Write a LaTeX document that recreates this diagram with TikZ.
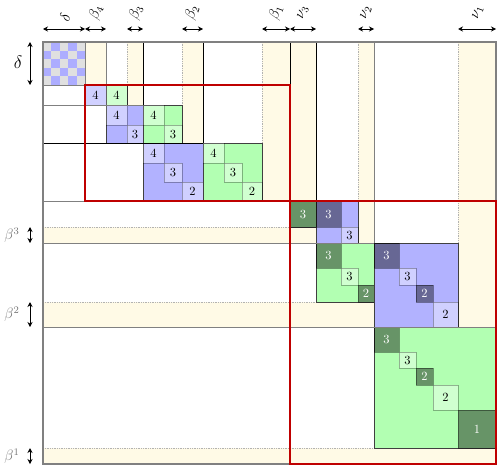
\documentclass[tikz,border=0pt]{standalone}
\usepackage{amsmath}
\usepackage{amssymb}
\usepackage{xcolor}
\usepackage{tikz}
\usetikzlibrary{
    arrows.meta,
    calc
}

\definecolor{cream}{RGB}{255,250,230}

% one square of a block: frame it and put its label in the middle
\newcommand{\cellbox}[7]{%
    \draw[#2] (#3,#4) rectangle (#5,#6);
    \node[#2, fill=none, draw=none, text opacity=1, inner sep=0pt] (#1) at ($(#3,#4)!0.5!(#5,#6)$) {#7};
}

\begin{document}
\begin{tikzpicture}[
        x=0.8pt, y=-0.8pt,
        strip/.style={
            fill=cream
        },
        dotrule/.style={
            densely dotted,
            black!30,
            line width=0.4pt
        },
        rule/.style={
            black,
            line width=0.5pt
        },
        softrule/.style={
            black!50,
            line width=0.6pt
        },
        blueblk/.style={
            fill=blue!30,
            draw=black!75,
            line width=0.5pt
        },
        greenblk/.style={
            fill=green!30,
            draw=black!75,
            line width=0.5pt
        },
        light/.style={
            fill=white,
            fill opacity=0.4,
            draw=black,
            draw opacity=0.3
        },
        dark/.style={
            fill=black,
            fill opacity=0.42,
            draw=black,
            draw opacity=0.4,
            text=white
        },
        frame/.style={
            draw=red!75!black,
            line width=1pt
        },
        dim/.style={
            {Stealth[length=4pt,width=4pt]}-{Stealth[length=4pt,width=4pt]},
            line width=0.6pt
        },
        toplabel/.style={
            rotate=70,
            inner sep=0pt,
            font=\large
        },
        sidelabel/.style={
            text=black!55,
            inner sep=0pt,
            font=\large
        }
    ]

    \useasboundingbox (0,0) rectangle (498,472);

    % cream strips
    \fill[strip] (85,42) rectangle (106,85);
    \fill[strip] (127,42) rectangle (143,105);
    \fill[strip] (182,42) rectangle (203,143);
    \fill[strip] (262,42) rectangle (316,201);
    \fill[strip] (358,42) rectangle (374,243);
    \fill[strip] (458,42) rectangle (496,327);
    \fill[strip] (43,227) rectangle (374,243);
    \fill[strip] (43,302) rectangle (496,327);
    \fill[strip] (43,448) rectangle (496,464);

    \draw[dotrule] (127,42) -- (127,105);
    \draw[dotrule] (182,42) -- (182,143);
    \draw[dotrule] (262,42) -- (262,201);
    \draw[dotrule] (358,42) -- (358,243);
    \draw[dotrule] (458,42) -- (458,327);
    \draw[dotrule] (43,227) -- (290,227);
    \draw[dotrule] (43,302) -- (316,302);
    \draw[dotrule] (43,448) -- (374,448);

    % checkered delta block
    \fill[black!12] (43,42) rectangle (85,85);
    \foreach \i in {0,...,4}{
        \foreach \j in {0,...,4}{
            \pgfmathtruncatemacro{\chk}{mod(\i+\j,2)}
            \ifnum\chk=1
                \fill[blue!32] ({43+8.4*\i},{42+8.6*\j}) rectangle ++(8.4,8.6);
            \fi
        }
    }
    \draw[softrule] (43,42) rectangle (85,85);

    % upper blocks
    \draw[blueblk] (85,85) rectangle (106,105);
    \cellbox{ua}{light}{85}{85}{106}{105}{4}
    \draw[greenblk] (106,85) rectangle (127,105);
    \cellbox{ub}{light}{106}{85}{127}{105}{4}

    \draw[blueblk] (106,105) rectangle (143,143);
    \cellbox{uc}{light}{106}{105}{127}{125}{4}
    \cellbox{ud}{light}{127}{125}{143}{143}{3}
    \draw[greenblk] (143,105) rectangle (182,143);
    \cellbox{ue}{light}{143}{105}{164}{125}{4}
    \cellbox{uf}{light}{164}{125}{182}{143}{3}

    \draw[blueblk] (143,143) rectangle (203,201);
    \cellbox{ug}{light}{143}{143}{164}{163}{4}
    \cellbox{uh}{light}{164}{163}{182}{182}{3}
    \cellbox{ui}{light}{182}{182}{203}{201}{2}
    \draw[greenblk] (203,143) rectangle (262,201);
    \cellbox{uj}{light}{203}{143}{224}{163}{4}
    \cellbox{uk}{light}{224}{163}{242}{182}{3}
    \cellbox{ul}{light}{242}{182}{262}{201}{2}

    % lower blocks
    \draw[greenblk] (290,201) rectangle (316,227);
    \cellbox{la}{dark}{290}{201}{316}{227}{3}

    \draw[blueblk] (316,201) rectangle (358,243);
    \cellbox{lb}{dark}{316}{201}{341}{227}{3}
    \cellbox{lc}{light}{341}{227}{358}{243}{3}

    \draw[greenblk] (316,243) rectangle (374,302);
    \cellbox{ld}{dark}{316}{243}{341}{268}{3}
    \cellbox{le}{light}{341}{268}{358}{285}{3}
    \cellbox{lf}{dark}{358}{285}{374}{302}{2}

    \draw[blueblk] (374,243) rectangle (458,327);
    \cellbox{lg}{dark}{374}{243}{399}{268}{3}
    \cellbox{lh}{light}{399}{268}{416}{285}{3}
    \cellbox{li}{dark}{416}{285}{433}{302}{2}
    \cellbox{lj}{light}{433}{302}{458}{327}{2}

    \draw[greenblk] (374,327) rectangle (496,448);
    \cellbox{lk}{dark}{374}{327}{399}{352}{3}
    \cellbox{ll}{light}{399}{352}{416}{368}{3}
    \cellbox{lm}{dark}{416}{368}{433}{385}{2}
    \cellbox{ln}{light}{433}{385}{458}{410}{2}
    \cellbox{lo}{dark}{458}{410}{496}{448}{1}

    % block partition
    \draw[softrule] (106,42) -- (106,85);
    \draw[rule] (143,42) -- (143,105);
    \draw[rule] (203,42) -- (203,143);
    \draw[rule] (290,42) -- (290,201);
    \draw[rule] (316,42) -- (316,201);
    \draw[softrule] (374,42) -- (374,243);
    \draw[softrule] (43,105) -- (143,105);
    \draw[rule] (43,143) -- (203,143);
    \draw[softrule] (43,201) -- (496,201);
    \draw[softrule] (43,243) -- (374,243);
    \draw[softrule] (43,327) -- (496,327);

    \draw[black!50, line width=1pt] (43,42) rectangle (496,464);

    \draw[frame] (85,85) rectangle (290,201);
    \draw[frame] (290,201) rectangle (496,464);

    % sizes along the top
    \coordinate (t0) at (43,29);
    \coordinate (t1) at (85,29);
    \coordinate (t2) at (106,29);
    \coordinate (t3) at (127,29);
    \coordinate (t4) at (143,29);
    \coordinate (t5) at (182,29);
    \coordinate (t6) at (203,29);
    \coordinate (t7) at (262,29);
    \coordinate (t8) at (290,29);
    \coordinate (t9) at (316,29);
    \coordinate (t10) at (358,29);
    \coordinate (t11) at (374,29);
    \coordinate (t12) at (458,29);
    \coordinate (t13) at (496,29);

    \draw[dim] (t0) -- (t1);
    \draw[dim] (t1) -- (t2);
    \draw[dim] (t3) -- (t4);
    \draw[dim] (t5) -- (t6);
    \draw[dim] (t7) -- (t8);
    \draw[dim] (t8) -- (t9);
    \draw[dim] (t10) -- (t11);
    \draw[dim] (t12) -- (t13);

    \node[toplabel] (delta) at (65,17) {$\delta$};
    \node[toplabel] (beta4) at (96,13) {$\beta_4$};
    \node[toplabel] (beta3) at (136,13) {$\beta_3$};
    \node[toplabel] (beta2) at (192,13) {$\beta_2$};
    \node[toplabel] (beta1) at (276,13) {$\beta_1$};
    \node[toplabel] (nu3) at (303,13) {$\nu_3$};
    \node[toplabel] (nu2) at (366,13) {$\nu_2$};
    \node[toplabel] (nu1) at (478,13) {$\nu_1$};

    % sizes down the side
    \coordinate (s0) at (30,42);
    \coordinate (s1) at (30,85);
    \coordinate (s2) at (30,227);
    \coordinate (s3) at (30,243);
    \coordinate (s4) at (30,302);
    \coordinate (s5) at (30,327);
    \coordinate (s6) at (30,448);
    \coordinate (s7) at (30,464);

    \draw[dim] (s0) -- (s1);
    \draw[dim] (s2) -- (s3);
    \draw[dim] (s4) -- (s5);
    \draw[dim] (s6) -- (s7);

    \node[inner sep=0pt, font=\Large] (deltaside) at (18,62) {$\delta$};
    \node[sidelabel] (upper3) at (12,235) {$\beta^3$};
    \node[sidelabel] (upper2) at (12,314) {$\beta^2$};
    \node[sidelabel] (upper1) at (12,456) {$\beta^1$};

\end{tikzpicture}
\end{document}
